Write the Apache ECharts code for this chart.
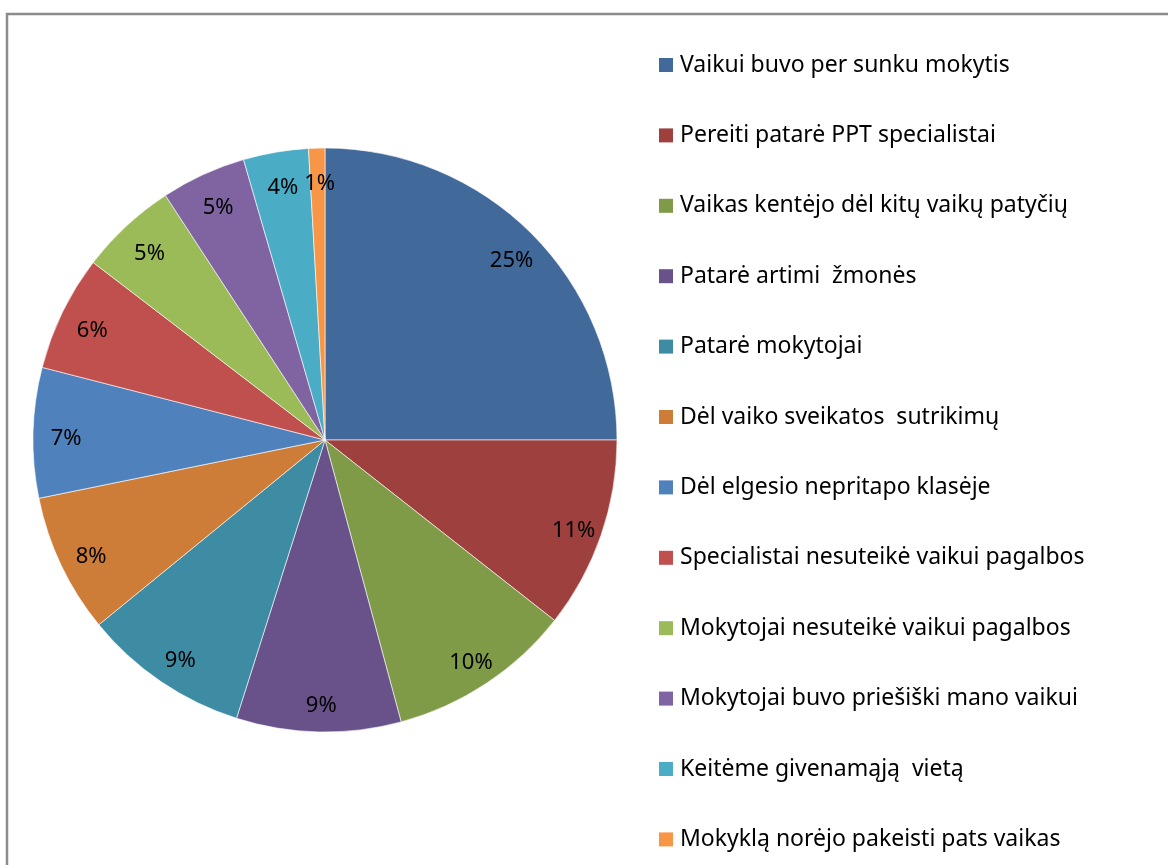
<!DOCTYPE html>
<html><head><meta charset="utf-8">
<script src="https://cdn.jsdelivr.net/npm/echarts@6/dist/echarts.min.js"></script>
<style>html,body{margin:0;padding:0;background:#fff}#c{width:1168px;height:865px}</style>
</head><body><div id="c"></div>
<script>
const categories = [
  'Vaikui buvo per sunku mokytis',
  'Pereiti patarė PPT specialistai',
  'Vaikas kentėjo dėl kitų vaikų patyčių',
  'Patarė artimi  žmonės',
  'Patarė mokytojai',
  'Dėl vaiko sveikatos  sutrikimų',
  'Dėl elgesio nepritapo klasėje',
  'Specialistai nesuteikė vaikui pagalbos',
  'Mokytojai nesuteikė vaikui pagalbos',
  'Mokytojai buvo priešiški mano vaikui',
  'Keitėme givenamąją  vietą',
  'Mokyklą norėjo pakeisti pats vaikas'
];
const values = [25, 10.6, 10.2, 9.1, 9.2, 7.7, 7.2, 6.4, 5.4, 4.7, 3.6, 0.9];
const colors = ['#416A9B','#9E413E','#7F9B48','#69518A','#3D8CA3','#CE7D38','#4F81BD','#C0504D','#9BBB59','#8064A2','#4BACC6','#F79646'];

const chart = echarts.init(document.getElementById('c'));
const data = categories.map((n, i) => ({ name: n, value: values[i], itemStyle: { color: colors[i] } }));
const font = '"Noto Sans", sans-serif';
chart.setOption({
  animation: false,
  graphic: [
    { type: 'polyline', shape: { points: [[7, 866], [7, 14], [1170, 14]] },
      style: { stroke: '#8c8c8c', lineWidth: 2.5, fill: null } }
  ],
  legend: {
    orient: 'vertical', left: 654, top: 48.5,
    itemWidth: 14, itemHeight: 14, itemGap: 47.4,
    icon: 'rect',
    data: categories,
    itemStyle: { borderWidth: 0 },
    textStyle: { fontFamily: font, fontSize: 23, lineHeight: 23, color: '#000', padding: [0, 0, 0, 2] }
  },
  series: [
    {
      type: 'pie', center: [325, 440], radius: [0, 292],
      startAngle: 90, clockwise: true,
      data: data,
      itemStyle: { borderColor: '#fff', borderWidth: 0.6 },
      label: { show: false }, labelLine: { show: false },
      emphasis: { disabled: true }
    },
    {
      type: 'pie', center: [325, 440], radius: [224, 292],
      startAngle: 90, clockwise: true, silent: true,
      data: data.map(d => ({ name: d.name, value: d.value })),
      itemStyle: { color: 'rgba(0,0,0,0)', borderWidth: 0 },
      label: { show: true, position: 'inside', fontFamily: font, fontSize: 22, color: '#000',
        offset: [2, 5], formatter: p => Math.round(p.value) + '%' },
      labelLine: { show: false },
      emphasis: { disabled: true }
    }
  ]
});
</script></body></html>
